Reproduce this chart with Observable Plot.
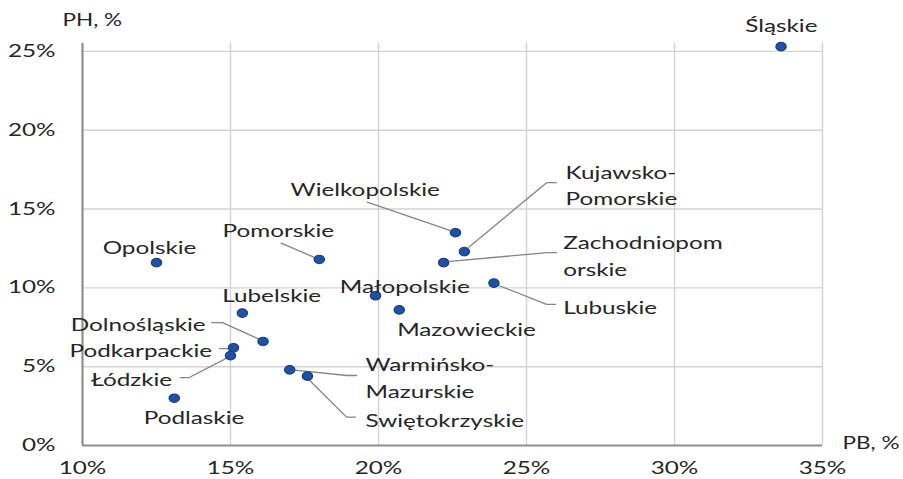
<!DOCTYPE html>
<html>
<head>
<meta charset="utf-8">
<script src="https://cdn.jsdelivr.net/npm/d3@7"></script>
<script src="https://cdn.jsdelivr.net/npm/@observablehq/plot@0.6"></script>
<style>
  html, body { margin: 0; padding: 0; background: #ffffff; }
  svg { display: block; }
</style>
</head>
<body>
<script>
// ---- data (values in %) ----
const regions = ["Śląskie", "Wielkopolskie", "Kujawsko-Pomorskie", "Zachodniopomorskie", "Lubuskie",
  "Pomorskie", "Małopolskie", "Mazowieckie", "Lubelskie", "Dolnośląskie", "Podkarpackie",
  "Łódzkie", "Warmińsko-Mazurskie", "Świętokrzyskie", "Podlaskie", "Opolskie"];
const pb = [33.6, 22.6, 22.9, 22.2, 23.9, 18.0, 19.9, 20.7, 15.4, 16.1, 15.1, 15.0, 17.0, 17.6, 13.1, 12.5];
const ph = [25.3, 13.5, 12.3, 11.6, 10.3, 11.8, 9.5, 8.6, 8.4, 6.6, 6.2, 5.7, 4.8, 4.4, 3.0, 11.6];
const xTicks = [10, 15, 20, 25, 30, 35];
const yTicks = [0, 5, 10, 15, 20, 25];
const xTitle = "PB, %";
const yTitle = "PH, %";

// ---- label text as printed in the chart ----
const labelText = ["Śląskie", "Wielkopolskie", "Kujawsko-\nPomorskie", "Zachodniopom\norskie", "Lubuskie",
  "Pomorskie", "Małopolskie", "Mazowieckie", "Lubelskie", "Dolnośląskie", "Podkarpackie",
  "Łódzkie", "Warmińsko-\nMazurskie", "Swiętokrzyskie", "Podlaskie", "Opolskie"];

// ---- annotation layout (data coordinates) ----
const labelX = [33.61, 17.03, 26.32, 26.24, 26.24, 14.73, 18.69, 20.63, 14.72, 14.16, 14.38, 13.03, 19.56, 19.56, 12.07, 10.68];
const labelY = [26.75, 16.37, 16.6, 12.14, 8.88, 13.77, 10.22, 7.51, 9.63, 7.82, 6.14, 4.30, 4.41, 1.73, 1.90, 12.69];
const labelAnchor = ["middle", "start", "start", "start", "start", "start", "start", "start", "start",
  "end", "end", "end", "start", "start", "start", "start"];
const leaderPaths = {
  "Wielkopolskie": [[19.62, 15.44], [22.41, 13.64]],
  "Kujawsko-Pomorskie": [[23.05, 12.58], [25.68, 16.67], [26.01, 16.67]],
  "Zachodniopomorskie": [[22.41, 11.68], [25.70, 12.23], [26.01, 12.23]],
  "Lubuskie": [[24.06, 10.15], [25.68, 8.95], [25.98, 8.95]],
  "Pomorskie": [[16.71, 12.84], [17.81, 11.95]],
  "Dolnośląskie": [[14.36, 7.80], [14.73, 7.80], [15.98, 6.73]],
  "Podkarpackie": [[14.63, 6.15], [14.93, 6.15]],
  "Łódzkie": [[13.31, 4.30], [13.59, 4.30], [14.89, 5.56]],
  "Warmińsko-Mazurskie": [[17.08, 4.80], [18.94, 4.44], [19.26, 4.44]],
  "Świętokrzyskie": [[17.65, 4.17], [18.92, 1.80], [19.22, 1.80]]
};

// ---- build tables ----
const points = regions.map((r, i) => ({region: r, pb: pb[i], ph: ph[i]}));
const labels = regions.map((r, i) => ({region: r, text: labelText[i], x: labelX[i], y: labelY[i], anchor: labelAnchor[i]}));
const leaders = Object.entries(leaderPaths).flatMap(([r, path]) => path.map(([x, y]) => ({region: r, x, y})));

const FONT = "Lato, 'Open Sans', sans-serif";
const FS = 17.6;
const INK = "#262626";
const pct = d => d + "%";

const labelMark = anchor => Plot.text(labels.filter(d => d.anchor === anchor), {
  x: "x", y: "y", text: "text", textAnchor: anchor, lineAnchor: "middle",
  lineHeight: 1.5, fontSize: FS, fill: INK
});

const svg = Plot.plot({
  width: 903,
  height: 479,
  marginLeft: 82,
  marginRight: 81,
  marginTop: 43,
  marginBottom: 34,
  style: {fontFamily: FONT, fontSize: FS + "px", background: "#ffffff", color: INK},
  x: {domain: [10, 35]},
  y: {domain: [0, 25.5]},
  marks: [
    Plot.gridX(xTicks.slice(1), {stroke: "#d3d3d3", strokeOpacity: 1, strokeWidth: 1.4}),
    Plot.gridY(yTicks.slice(1), {stroke: "#d3d3d3", strokeOpacity: 1, strokeWidth: 1.4}),
    Plot.ruleX([10], {stroke: "#8e8e8e", strokeWidth: 2.2}),
    Plot.ruleY([0], {stroke: "#8e8e8e", strokeWidth: 2.2}),
    Plot.axisX(xTicks, {tickSize: 0, tickPadding: 16, tickFormat: pct, fontSize: FS, fill: INK, label: null}),
    Plot.axisY(yTicks, {tickSize: 0, tickPadding: 27, tickFormat: pct, fontSize: FS, fill: INK, label: null}),
    Plot.text([yTitle], {frameAnchor: "top-left", dx: -20, dy: -23, textAnchor: "start", lineAnchor: "middle", fontSize: FS, fill: INK, className: "axis-title"}),
    Plot.text([xTitle], {frameAnchor: "bottom-right", dx: 20, dy: -2, textAnchor: "start", lineAnchor: "middle", fontSize: FS, fill: INK, className: "axis-title"}),
    Plot.line(leaders, {x: "x", y: "y", z: "region", stroke: "#858585", strokeWidth: 1.3}),
    Plot.dot(points, {x: "pb", y: "ph", r: 4.3, fill: "#2151a3", stroke: "#173c80", strokeWidth: 1}),
    labelMark("start"),
    labelMark("middle"),
    labelMark("end")
  ]
});
document.body.append(svg);

// horizontal stretch of glyphs and dots, as in the reference picture
const S = 1.38, S_TITLE = 1.28;
svg.querySelectorAll("text").forEach(t => {
  const s = t.closest(".axis-title") ? S_TITLE : S;
  const b = t.getBBox();
  const anchor = getComputedStyle(t).textAnchor;
  const ax = anchor === "middle" ? b.x + b.width / 2 : anchor === "end" ? b.x + b.width : b.x;
  const tr = t.getAttribute("transform") || "";
  t.setAttribute("transform", `${tr} translate(${ax},0) scale(${s},1) translate(${-ax},0)`);
});
svg.querySelectorAll("circle").forEach(c => {
  const cx = +c.getAttribute("cx") || 0, cy = +c.getAttribute("cy") || 0;
  const tr = c.getAttribute("transform") || "";
  c.setAttribute("transform", `${tr} translate(${cx},${cy}) scale(1.2,1) translate(${-cx},${-cy})`);
});
</script>
</body>
</html>
